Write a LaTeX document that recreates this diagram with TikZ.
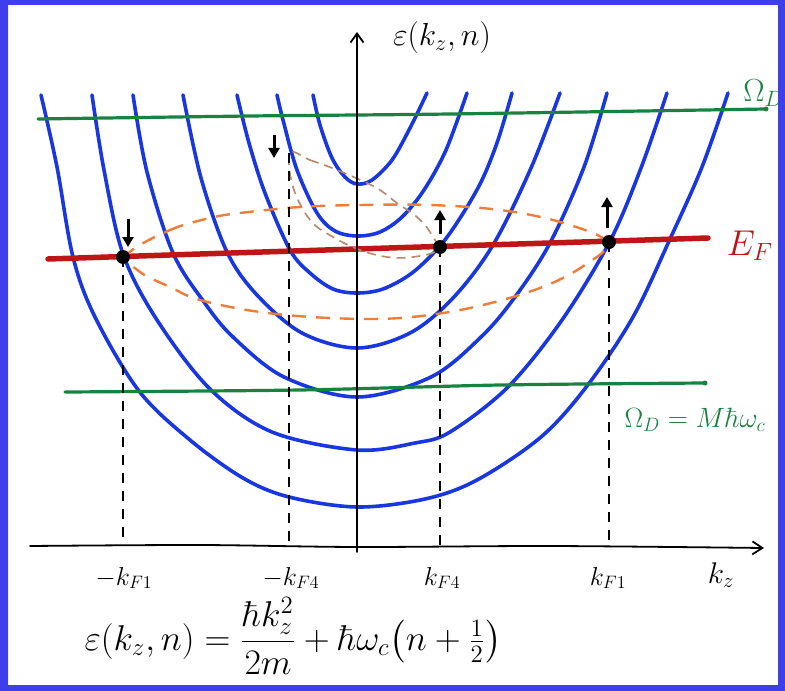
\documentclass[tikz,border=0pt]{standalone}
\usepackage{amsmath}
\usetikzlibrary{arrows.meta}
\definecolor{frameblue}{RGB}{62,62,235}
\definecolor{curveblue}{RGB}{25,55,225}
\definecolor{greenline}{RGB}{25,130,65}
\definecolor{redline}{RGB}{190,22,22}
\definecolor{orangedash}{RGB}{240,125,55}
\definecolor{browndash}{RGB}{185,135,105}
\begin{document}
\begin{tikzpicture}[x=1bp,y=-1bp,
  band/.style={curveblue,line width=3.6bp,line cap=round,line join=round},
  axisline/.style={black,line width=1.8bp,line cap=round},
  vdash/.style={black,line width=2.4bp,dash pattern=on 10bp off 8bp},
  greenl/.style={greenline,line width=3.2bp,line cap=round},
  fermi/.style={redline,line width=5.5bp,line cap=round},
  orbit/.style={orangedash,line width=2.4bp,dash pattern=on 14bp off 10bp},
  smallorbit/.style={browndash,line width=1.6bp,dash pattern=on 9bp off 6bp},
  spin/.style={black,line width=3bp,-{Triangle[length=10bp,width=11bp]}},
  fdot/.style={circle,fill=black,inner sep=0pt,minimum size=14bp},
  enddot/.style={circle,fill=greenline,inner sep=0pt,minimum size=5bp},
  sz/.style={font=\fontsize{20.74}{25}\selectfont,inner sep=0pt,scale=#1/20.74},
]
% background
\fill[white] (0,0) rectangle (785,691);
\useasboundingbox (0,0) rectangle (785,691);

% parabolas (Landau levels)
\draw[band] plot[smooth,tension=0.55] coordinates {(313,95) (320,125) (332,158) (345,177) (357,184) (372,180) (392,160) (410,128) (427,93)};
\draw[band] plot[smooth,tension=0.55] coordinates {(277,95) (283,120) (297,170) (317,213) (335,231) (357,236) (380,232) (402,217) (424,190) (446,150) (467,93)};
\draw[band] plot[smooth,tension=0.55] coordinates {(237,95) (249,143) (265,193) (290,250) (310,273) (333,289) (357,293) (383,289) (412,273) (440,246) (462,215) (482,180) (498,140) (512,93)};
\draw[band] plot[smooth,tension=0.55] coordinates {(183,95) (201,178) (227,252) (257,295) (302,333) (357,348) (410,333) (453,298) (493,245) (531,168) (560,93)};
\draw[band] plot[smooth,tension=0.55] coordinates {(133,95) (147,172) (173,253) (204,302) (233,337) (284,377) (357,397) (431,377) (481,337) (515,297) (550,243) (584,167) (607,93)};
\draw[band] plot[smooth,tension=0.55] coordinates {(92,95) (104,170) (123,254) (157,320) (210,389) (272,432) (357,450) (415,443) (450,432) (508,387) (562,320) (610,241) (641,168) (667,93)};
\draw[band] plot[smooth,tension=0.55] coordinates {(41,95) (57,167) (73,257) (95,317) (139,391) (190,440) (243,478) (289,497) (357,507) (425,499) (477,480) (541,437) (587,386) (633,317) (670,239) (702,167) (728,93)};

% green lines
\draw[greenl] plot[smooth] coordinates {(38,119) (250,116) (450,114) (766,109)};
\node[enddot] (gtopend) at (766,109) {};
\draw[greenl] plot[smooth] coordinates {(65,392) (300,390) (500,385) (705,383)};
\node[enddot] (gbotend) at (705,383) {};

% Fermi level
\draw[fermi] plot[smooth] coordinates {(48,259) (200,254) (357,249) (550,243) (708,238)};

% orbits
\draw[orbit] plot[smooth cycle,tension=0.6] coordinates {(128,254) (170,230) (210,218) (240,213) (300,207) (360,205) (430,205) (500,210) (560,222) (607,242) (585,265) (540,288) (470,308) (400,318) (330,318) (260,312) (200,300) (170,287) (140,272)};
\draw[smallorbit] plot[smooth cycle,tension=0.6] coordinates {(290,153) (310,160) (337,170) (375,187) (397,203) (417,217) (430,232) (437,250) (413,257) (387,257) (360,250) (333,237) (310,220) (293,187)};

% crossing points
\coordinate (mkF1top) at (123,257);
\coordinate (mkF4top) at (289,153);
\coordinate (kF4top) at (440,247);
\coordinate (kF1top) at (609,242);
\coordinate (mkF1) at (123,546);
\coordinate (mkF4) at (289,546);
\coordinate (kF4) at (440,547);
\coordinate (kF1) at (609,547);
\draw[vdash] (mkF1top) -- (mkF1);
\draw[vdash] (mkF4top) -- (mkF4);
\draw[vdash] (kF4top) -- (kF4);
\draw[vdash] (kF1top) -- (kF1);
\node[fdot] (d1) at (mkF1top) {};
\node[fdot] (d2) at (kF4top) {};
\node[fdot] (d3) at (kF1top) {};

% spins
\coordinate (s1a) at (128,219); \coordinate (s1b) at (128,247);
\coordinate (s2a) at (274,135); \coordinate (s2b) at (274,158);
\coordinate (s3a) at (440,234); \coordinate (s3b) at (440,210);
\coordinate (s4a) at (607,228); \coordinate (s4b) at (607,197);
\draw[spin] (s1a) -- (s1b);
\draw[spin] (s2a) -- (s2b);
\draw[spin] (s3a) -- (s3b);
\draw[spin] (s4a) -- (s4b);

% axes
\coordinate (origin) at (357,547);
\coordinate (ytop) at (357,32);
\draw[axisline,-{Straight Barb[length=9bp,width=13bp]}] (357,552) -- (ytop);
\draw[axisline,-{Straight Barb[length=10bp,width=13bp]}] plot[smooth] coordinates {(30,546) (200,545) (357,547) (550,546) (764,548)};

% labels
\node[sz=32] (elabel) at (442,38) {$\varepsilon(k_z,n)$};
\node[sz=26] (lmkF1) at (124,578) {$-k_{F1}$};
\node[sz=26] (lmkF4) at (291,578) {$-k_{F4}$};
\node[sz=26] (lkF4) at (442,578) {$k_{F4}$};
\node[sz=26] (lkF1) at (608,578) {$k_{F1}$};
\node[sz=30] (lkz) at (721,575) {$k_z$};
\node[sz=36,text=redline] (lEF) at (750,246) {$E_F$};
\node[sz=28,text=greenline] (lOmega) at (695,420) {$\Omega_D = M\hbar\omega_c$};
\node[sz=32,text=greenline,anchor=west] (lOmegaTop) at (743,93) {$\Omega_D$};
\node[sz=36] (eqn) at (293,636) {$\varepsilon(k_z,n) = \dfrac{\hbar k_z^2}{2m} + \hbar\omega_c\bigl(n+\tfrac{1}{2}\bigr)$};

% frame
\fill[frameblue,even odd rule] (0,0) rectangle (785,691) (8,5) rectangle (778,685);
\end{tikzpicture}
\end{document}
